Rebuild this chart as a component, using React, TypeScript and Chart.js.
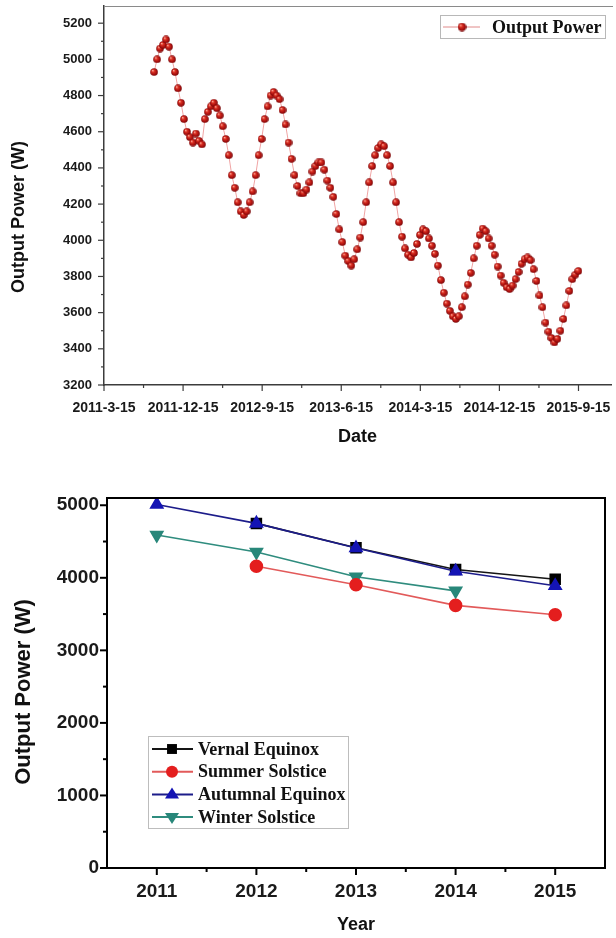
import { useEffect, useRef } from 'react';
import { Chart, registerables } from 'chart.js';

Chart.register(...registerables);

// ---------- Top chart data ----------
const dateTickLabels = ['2011-3-15', '2011-12-15', '2012-9-15', '2013-6-15', '2014-3-15', '2014-12-15', '2015-9-15'];
const dateTickMonths = [0, 9, 18, 27, 36, 45, 54]; // months after 2011-3-15
const dateMinorMonths = [4.5, 13.5, 22.5, 31.5, 40.5, 49.5];
const firstSampleMonth = 5.7;
const sampleStepMonths = 0.34;
const outputPower = [
  4930, 5000, 5060, 5080, 5110,
  5070, 5000, 4930, 4840, 4760, 4670, 4600, 4570, 4540, 4590, 4550, 4530,
  4670, 4710, 4740, 4760,
  4730, 4690, 4630, 4560, 4470, 4360, 4290, 4210, 4160, 4140,
  4160, 4210, 4270, 4360, 4470, 4560, 4670, 4740, 4800, 4820,
  4800, 4780, 4720, 4640, 4540, 4450, 4360, 4300, 4260,
  4260, 4280, 4320, 4380, 4410, 4430, 4430,
  4390, 4330, 4290, 4240, 4145, 4060, 3990, 3915, 3885, 3860,
  3895, 3950, 4015, 4100, 4210, 4320, 4410, 4470, 4510, 4530,
  4520, 4470, 4410, 4320, 4210, 4100, 4020, 3955, 3920, 3905,
  3930, 3980, 4030, 4060,
  4050, 4010, 3970, 3925, 3860, 3780, 3710, 3650, 3610, 3580, 3565,
  3580, 3630, 3690, 3755, 3820, 3900, 3970, 4030, 4065,
  4050, 4010, 3970, 3920, 3855, 3805, 3765, 3740, 3730,
  3750, 3785, 3825, 3870, 3895, 3905,
  3890, 3840, 3775, 3695, 3630, 3545, 3495, 3460, 3435,
  3455, 3500, 3565, 3640, 3720, 3785, 3810, 3830,
];
const powerMajorTicks = [3200, 3400, 3600, 3800, 4000, 4200, 4400, 4600, 4800, 5000, 5200];
const powerMinorTicks = [3300, 3500, 3700, 3900, 4100, 4300, 4500, 4700, 4900, 5100];

// ---------- Bottom chart data ----------
const years = [2011, 2012, 2013, 2014, 2015];
const yearMinorTicks = [2011.5, 2012.5, 2013.5, 2014.5];
const vernalEquinox = [null, 4750, 4415, 4115, 3980];
const summerSolstice = [null, 4160, 3905, 3620, 3490];
const autumnalEquinox = [5010, 4750, 4410, 4090, 3890];
const winterSolstice = [4590, 4355, 4015, 3820, null];
const yearPowerMajor = [0, 1000, 2000, 3000, 4000, 5000];
const yearPowerMinor = [500, 1500, 2500, 3500, 4500];

const SANS = '"Liberation Sans", Arial, sans-serif';
const SERIF = '"Liberation Serif", "Times New Roman", serif';

function makeSphere(d: number) {
  const c = document.createElement('canvas');
  c.width = d;
  c.height = d;
  const g = c.getContext('2d')!;
  const r = d / 2;
  const grad = g.createRadialGradient(r * 0.65, r * 0.6, r * 0.05, r, r, r);
  grad.addColorStop(0, '#ffb0a0');
  grad.addColorStop(0.3, '#dd3022');
  grad.addColorStop(0.75, '#a10d0d');
  grad.addColorStop(1, '#6e0505');
  g.fillStyle = grad;
  g.beginPath();
  g.arc(r, r, r - 0.2, 0, Math.PI * 2);
  g.fill();
  return c;
}

function ticksPlugin(conf: any) {
  return {
    id: 'manualTicks',
    afterDraw(chart: any) {
      const ctx = chart.ctx;
      ctx.save();
      ctx.strokeStyle = conf.color;
      ctx.lineWidth = conf.width;
      for (const id of Object.keys(conf.scales)) {
        const s = chart.scales[id];
        const c = conf.scales[id];
        const draw = (v: number, len: number) => {
          const p = s.getPixelForValue(v);
          ctx.beginPath();
          if (s.isHorizontal()) {
            ctx.moveTo(p, s.top);
            ctx.lineTo(p, s.top + len);
          } else {
            ctx.moveTo(s.right, p);
            ctx.lineTo(s.right - len, p);
          }
          ctx.stroke();
        };
        c.major.forEach((v: number) => draw(v, conf.majorLen));
        c.minor.forEach((v: number) => draw(v, conf.minorLen));
      }
      // rotated y-axis title
      ctx.save();
      ctx.translate(conf.titleX, conf.titleY);
      ctx.rotate(-Math.PI / 2);
      ctx.fillStyle = '#111';
      ctx.font = conf.titleFont;
      ctx.textAlign = 'center';
      ctx.textBaseline = 'middle';
      ctx.fillText(conf.title, 0, 0);
      ctx.restore();
      ctx.restore();
    },
  };
}

type Marker = 'rect' | 'circle' | 'triangle' | 'triangleDown';

function drawMarker(ctx: CanvasRenderingContext2D, m: Marker, x: number, y: number, r: number, color: string) {
  ctx.fillStyle = color;
  ctx.beginPath();
  if (m === 'rect') {
    const s = r * Math.SQRT1_2;
    ctx.rect(x - s, y - s, 2 * s, 2 * s);
  } else if (m === 'circle') {
    ctx.arc(x, y, r, 0, Math.PI * 2);
  } else {
    const dir = m === 'triangle' ? 1 : -1;
    ctx.moveTo(x, y - dir * r);
    ctx.lineTo(x - r, y + dir * r * 0.6);
    ctx.lineTo(x + r, y + dir * r * 0.6);
  }
  ctx.closePath();
  ctx.fill();
}

const seasonSeries = [
  { label: 'Vernal Equinox', values: vernalEquinox, line: '#151515', fill: '#000000', marker: 'rect' as Marker, order: 2 },
  { label: 'Summer Solstice', values: summerSolstice, line: '#e25a5a', fill: '#e41e1e', marker: 'circle' as Marker, order: 3 },
  { label: 'Autumnal Equinox', values: autumnalEquinox, line: '#1c1c8a', fill: '#1414b4', marker: 'triangle' as Marker, order: 1 },
  { label: 'Winter Solstice', values: winterSolstice, line: '#2f8c7e', fill: '#28877a', marker: 'triangleDown' as Marker, order: 4 },
];

export default function App() {
  const topRef = useRef<HTMLCanvasElement>(null);
  const botRef = useRef<HTMLCanvasElement>(null);

  useEffect(() => {
    document.body.style.margin = '0';
    const ball = makeSphere(8);
    const legendBall = makeSphere(9);

    const topFrame = {
      id: 'topFrame',
      afterDraw(chart: any) {
        const { ctx, chartArea: a } = chart;
        ctx.save();
        ctx.strokeStyle = '#8a8a8a';
        ctx.lineWidth = 1;
        ctx.beginPath();
        ctx.moveTo(a.left, a.top + 0.5);
        ctx.lineTo(a.right + 2, a.top + 0.5);
        ctx.stroke();
        // legend
        const bx = 440, by = 15, bw = 165, bh = 23;
        ctx.fillStyle = '#fff';
        ctx.fillRect(bx, by, bw, bh);
        ctx.strokeStyle = '#b8b8b8';
        ctx.strokeRect(bx + 0.5, by + 0.5, bw, bh);
        const cy = by + bh / 2 + 0.5;
        ctx.strokeStyle = '#e08a8a';
        ctx.beginPath();
        ctx.moveTo(bx + 3, cy);
        ctx.lineTo(bx + 40, cy);
        ctx.stroke();
        ctx.drawImage(legendBall, bx + 22 - 4.5, cy - 4.5);
        ctx.fillStyle = '#111';
        ctx.font = `bold 18px ${SERIF}`;
        ctx.textBaseline = 'middle';
        ctx.textAlign = 'left';
        ctx.fillText('Output Power', bx + 52, cy + 1);
        ctx.restore();
      },
    };

    const top = new Chart(topRef.current!, {
      type: 'line',
      data: {
        datasets: [
          {
            label: 'Output Power',
            data: outputPower.map((v, i) => ({ x: firstSampleMonth + i * sampleStepMonths, y: v })),
            borderColor: '#f0a4a4',
            borderWidth: 1,
            pointStyle: ball as any,
            pointRadius: 4,
            pointHoverRadius: 4,
            tension: 0,
          },
        ],
      },
      options: {
        responsive: false,
        animation: false,
        events: [],
        layout: { padding: { left: 0, right: 2, top: 6, bottom: 0 } },
        plugins: { legend: { display: false }, tooltip: { enabled: false } },
        scales: {
          x: {
            type: 'linear',
            min: 0,
            max: 57.7,
            afterBuildTicks: (s: any) => {
              s.ticks = dateTickMonths.map((v) => ({ value: v }));
            },
            afterFit: (s: any) => {
              s.height = 75;
              s.paddingLeft = 0;
              s.paddingRight = 0;
            },
            grid: { display: false, drawTicks: false },
            border: { display: true, color: '#3c3c3c', width: 1.5 },
            ticks: {
              padding: 15,
              color: '#1a1a1a',
              autoSkip: false,
              maxRotation: 0,
              font: { family: SANS, size: 14, weight: 'bold' },
              callback: (v: any) => {
                const k = dateTickMonths.indexOf(Number(v));
                return k >= 0 ? dateTickLabels[k] : '';
              },
            },
            title: {
              display: true,
              text: 'Date',
              color: '#111',
              font: { family: SANS, size: 18, weight: 'bold' },
              padding: { top: 0, bottom: 12 },
            },
          },
          y: {
            min: 3200,
            max: 5295,
            afterBuildTicks: (s: any) => {
              s.ticks = powerMajorTicks.map((v) => ({ value: v }));
            },
            afterFit: (s: any) => {
              s.width = 104;
              s.paddingTop = 0;
              s.paddingBottom = 0;
            },
            grid: { display: false, drawTicks: false },
            border: { display: true, color: '#3c3c3c', width: 1.5 },
            ticks: {
              padding: 12,
              color: '#1a1a1a',
              font: { family: SANS, size: 13, weight: 'bold' },
              callback: (v: any) => String(v),
            },
            title: { display: false },
          },
        },
      },
      plugins: [
        ticksPlugin({
          color: '#3c3c3c',
          width: 1.2,
          majorLen: 6,
          minorLen: 3,
          title: 'Output Power (W)',
          titleFont: `bold 18px ${SANS}`,
          titleX: 19,
          titleY: 217,
          scales: {
            x: { major: dateTickMonths, minor: dateMinorMonths },
            y: { major: powerMajorTicks, minor: powerMinorTicks },
          },
        }),
        topFrame,
      ],
    } as any);

    const botFrame = {
      id: 'botFrame',
      afterDraw(chart: any) {
        const { ctx, chartArea: a } = chart;
        ctx.save();
        ctx.strokeStyle = '#000';
        ctx.lineWidth = 2;
        ctx.strokeRect(a.left, a.top, a.right - a.left, a.bottom - a.top);
        // legend box
        const bx = 148, by = 276, bw = 200, bh = 92;
        ctx.fillStyle = '#fff';
        ctx.fillRect(bx, by, bw, bh);
        ctx.strokeStyle = '#bdbdbd';
        ctx.lineWidth = 1;
        ctx.strokeRect(bx + 0.5, by + 0.5, bw, bh);
        seasonSeries.forEach((s, i) => {
          const cy = by + 13 + i * 22.7;
          ctx.strokeStyle = s.line;
          ctx.lineWidth = 2;
          ctx.beginPath();
          ctx.moveTo(bx + 4, cy);
          ctx.lineTo(bx + 45, cy);
          ctx.stroke();
          drawMarker(ctx, s.marker, bx + 24, cy, s.marker === 'circle' ? 6 : 7, s.fill);
          ctx.fillStyle = '#111';
          ctx.font = `bold 18px ${SERIF}`;
          ctx.textBaseline = 'middle';
          ctx.textAlign = 'left';
          ctx.fillText(s.label, bx + 50, cy + 1);
        });
        ctx.restore();
      },
    };

    const bot = new Chart(botRef.current!, {
      type: 'line',
      data: {
        datasets: seasonSeries.map((s) => ({
          label: s.label,
          data: years.map((y, i) => ({ x: y, y: s.values[i] })),
          borderColor: s.line,
          backgroundColor: s.fill,
          pointBackgroundColor: s.fill,
          pointBorderColor: s.fill,
          borderWidth: 1.6,
          pointStyle: s.marker === 'triangleDown' ? 'triangle' : s.marker,
          rotation: s.marker === 'triangleDown' ? 180 : 0,
          pointRadius: s.marker === 'circle' ? 6 : 7,
          pointHoverRadius: 7,
          order: s.order,
          tension: 0,
          spanGaps: false,
        })),
      },
      options: {
        responsive: false,
        animation: false,
        events: [],
        layout: { padding: { left: 0, right: 11, top: 38, bottom: 0 } },
        plugins: { legend: { display: false }, tooltip: { enabled: false } },
        scales: {
          x: {
            type: 'linear',
            min: 2010.5,
            max: 2015.5,
            afterBuildTicks: (s: any) => {
              s.ticks = years.map((v) => ({ value: v }));
            },
            afterFit: (s: any) => {
              s.height = 70;
              s.paddingLeft = 0;
              s.paddingRight = 0;
            },
            grid: { display: false, drawTicks: false },
            border: { display: true, color: '#000', width: 2 },
            ticks: {
              padding: 12,
              color: '#1a1a1a',
              autoSkip: false,
              maxRotation: 0,
              font: { family: SANS, size: 19, weight: 'bold' },
              callback: (v: any) => String(v),
            },
            title: {
              display: true,
              text: 'Year',
              color: '#111',
              font: { family: SANS, size: 18, weight: 'bold' },
              padding: { top: 0, bottom: 2 },
            },
          },
          y: {
            min: 0,
            max: 5100,
            afterBuildTicks: (s: any) => {
              s.ticks = yearPowerMajor.map((v) => ({ value: v }));
            },
            afterFit: (s: any) => {
              s.width = 107;
              s.paddingTop = 0;
              s.paddingBottom = 0;
            },
            grid: { display: false, drawTicks: false },
            border: { display: true, color: '#000', width: 2 },
            ticks: {
              padding: 8,
              color: '#1a1a1a',
              font: { family: SANS, size: 19, weight: 'bold' },
              callback: (v: any) => String(v),
            },
            title: { display: false },
          },
        },
      },
      plugins: [
        ticksPlugin({
          color: '#000',
          width: 2,
          majorLen: 7,
          minorLen: 4,
          title: 'Output Power (W)',
          titleFont: `bold 22px ${SANS}`,
          titleX: 24,
          titleY: 232,
          scales: {
            x: { major: years, minor: yearMinorTicks },
            y: { major: yearPowerMajor, minor: yearPowerMinor },
          },
        }),
        botFrame,
      ],
    } as any);

    return () => {
      top.destroy();
      bot.destroy();
    };
  }, []);

  return (
    <div style={{ position: 'relative', width: 616, height: 938, background: '#fff' }}>
      <canvas ref={topRef} width={616} height={460} style={{ position: 'absolute', left: 0, top: 0, width: 616, height: 460 }} />
      <canvas ref={botRef} width={616} height={478} style={{ position: 'absolute', left: 0, top: 460, width: 616, height: 478 }} />
    </div>
  );
}
